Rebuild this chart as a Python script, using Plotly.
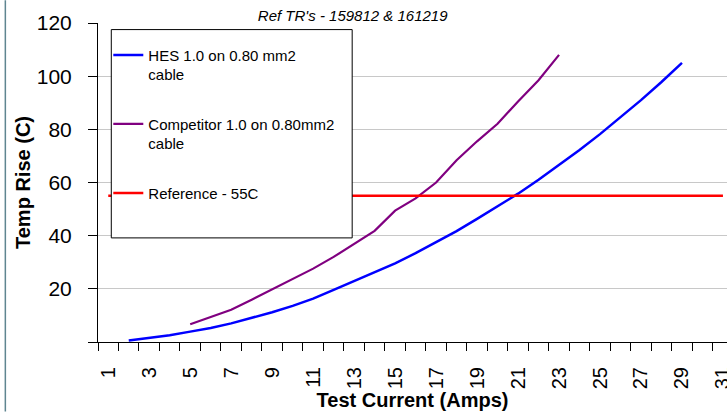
import plotly.graph_objects as go

# ---- data ----
current = list(range(1, 32))
tick_labels = [str(c) if c % 2 == 1 else "" for c in current]

hes_x = list(range(2, 30))
hes_y = [0.6, 1.6, 2.5, 3.9, 5.3, 7.0, 9.0, 11.2, 13.6, 16.3, 19.6, 23.0, 26.2,
         29.6, 33.4, 37.4, 41.7, 46.3, 51.0, 55.8, 61.0, 66.6, 72.2, 78.2,
         84.5, 91.0, 97.8, 105.0]

comp_x = list(range(5, 24))
comp_y = [6.7, 9.4, 12.1, 15.9, 19.8, 23.4, 27.6, 32.0, 36.9, 41.8, 49.4,
          54.0, 60.0, 68.4, 75.5, 82.1, 90.5, 98.5, 108.0]

ref_x = list(range(1, 32))
ref_y = [55] * len(ref_x)

y_ticks = [0, 20, 40, 60, 80, 100, 120]
y_ticktext = ["", "20", "40", "60", "80", "100", "120"]

FONT = "Liberation Sans, Arial, sans-serif"

W, H = 727, 412
L, R, T, B = 97.7, 0, 22.7, 69.7
PW, PH = W - L - R, H - T - B

def px(x):
    return (x - L) / PW

def py(y):
    return 1 - (y - T) / PH

fig = go.Figure()
fig.add_trace(go.Scatter(x=hes_x, y=hes_y, mode="lines",
                         name="HES 1.0 on 0.80 mm2<br>cable",
                         line=dict(color="#0000FF", width=2.5),
                         legendgroup="a"))
fig.add_trace(go.Scatter(x=comp_x, y=comp_y, mode="lines",
                         name="Competitor 1.0 on 0.80mm2<br>cable",
                         line=dict(color="#800080", width=2.2),
                         legendgroup="b"))
fig.add_trace(go.Scatter(x=ref_x, y=ref_y, mode="lines",
                         name="Reference - 55C",
                         line=dict(color="#FF0000", width=2.5),
                         legendgroup="c"))

fig.update_layout(
    width=W, height=H,
    margin=dict(l=L, r=R, t=T, b=B, autoexpand=False),
    paper_bgcolor="white", plot_bgcolor="white",
    font=dict(family=FONT, color="black"),
    title=dict(text="<i>Ref TR's - 159812 & 161219</i>",
               font=dict(size=15, family=FONT),
               x=px(403), xanchor="center", y=1 - 15.5 / H, yanchor="middle"),
    showlegend=True,
    legend=dict(x=px(108), xanchor="left", y=py(29.3), yanchor="top",
                bgcolor="rgba(0,0,0,0)", borderwidth=0,
                font=dict(size=15, family=FONT), valign="top",
                title=dict(text=" ", font=dict(size=7)),
                traceorder="grouped", tracegroupgap=27),
    xaxis=dict(range=[0.5, 0.5 + (W - L) / 20.5], tickvals=current,
               ticktext=tick_labels, tickangle=-90, ticks="",
               tickfont=dict(size=20), ticklabelstandoff=16,
               ticklabeloverflow="allow",
               showgrid=False, zeroline=False,
               showline=True, linecolor="black", linewidth=1,
               minor=dict(ticks="outside", tick0=0.5, dtick=1, ticklen=8,
                          tickcolor="black", showgrid=False),
               title=dict(text="<b>Test Current (Amps)</b>",
                          font=dict(size=20), standoff=2),
               automargin=False),
    yaxis=dict(range=[0, 120], tickvals=y_ticks, ticktext=y_ticktext,
               ticks="outside", ticklen=9, tickcolor="black",
               tickfont=dict(size=21), ticklabelstandoff=12,
               showgrid=True, gridcolor="#c8c8c8", gridwidth=1,
               zeroline=False, showline=True, linecolor="black", linewidth=1,
               title=dict(text="<b>Temp Rise (C)</b>",
                          font=dict(size=20), standoff=0),
               automargin=False),
    shapes=[
        dict(type="line", xref="paper", yref="paper",
             x0=px(5), x1=px(5), y0=py(H), y1=py(0),
             line=dict(color="#5f8590", width=1.5)),
        dict(type="rect", xref="paper", yref="paper", layer="above",
             x0=px(111), x1=px(352), y0=py(238), y1=py(29.3),
             fillcolor="white", line=dict(color="black", width=1)),
    ],
)

fig.write_html("out.html", config={"displayModeBar": False},
               post_script="document.body.style.margin='0px';"
                           "document.body.style.padding='0px';")
